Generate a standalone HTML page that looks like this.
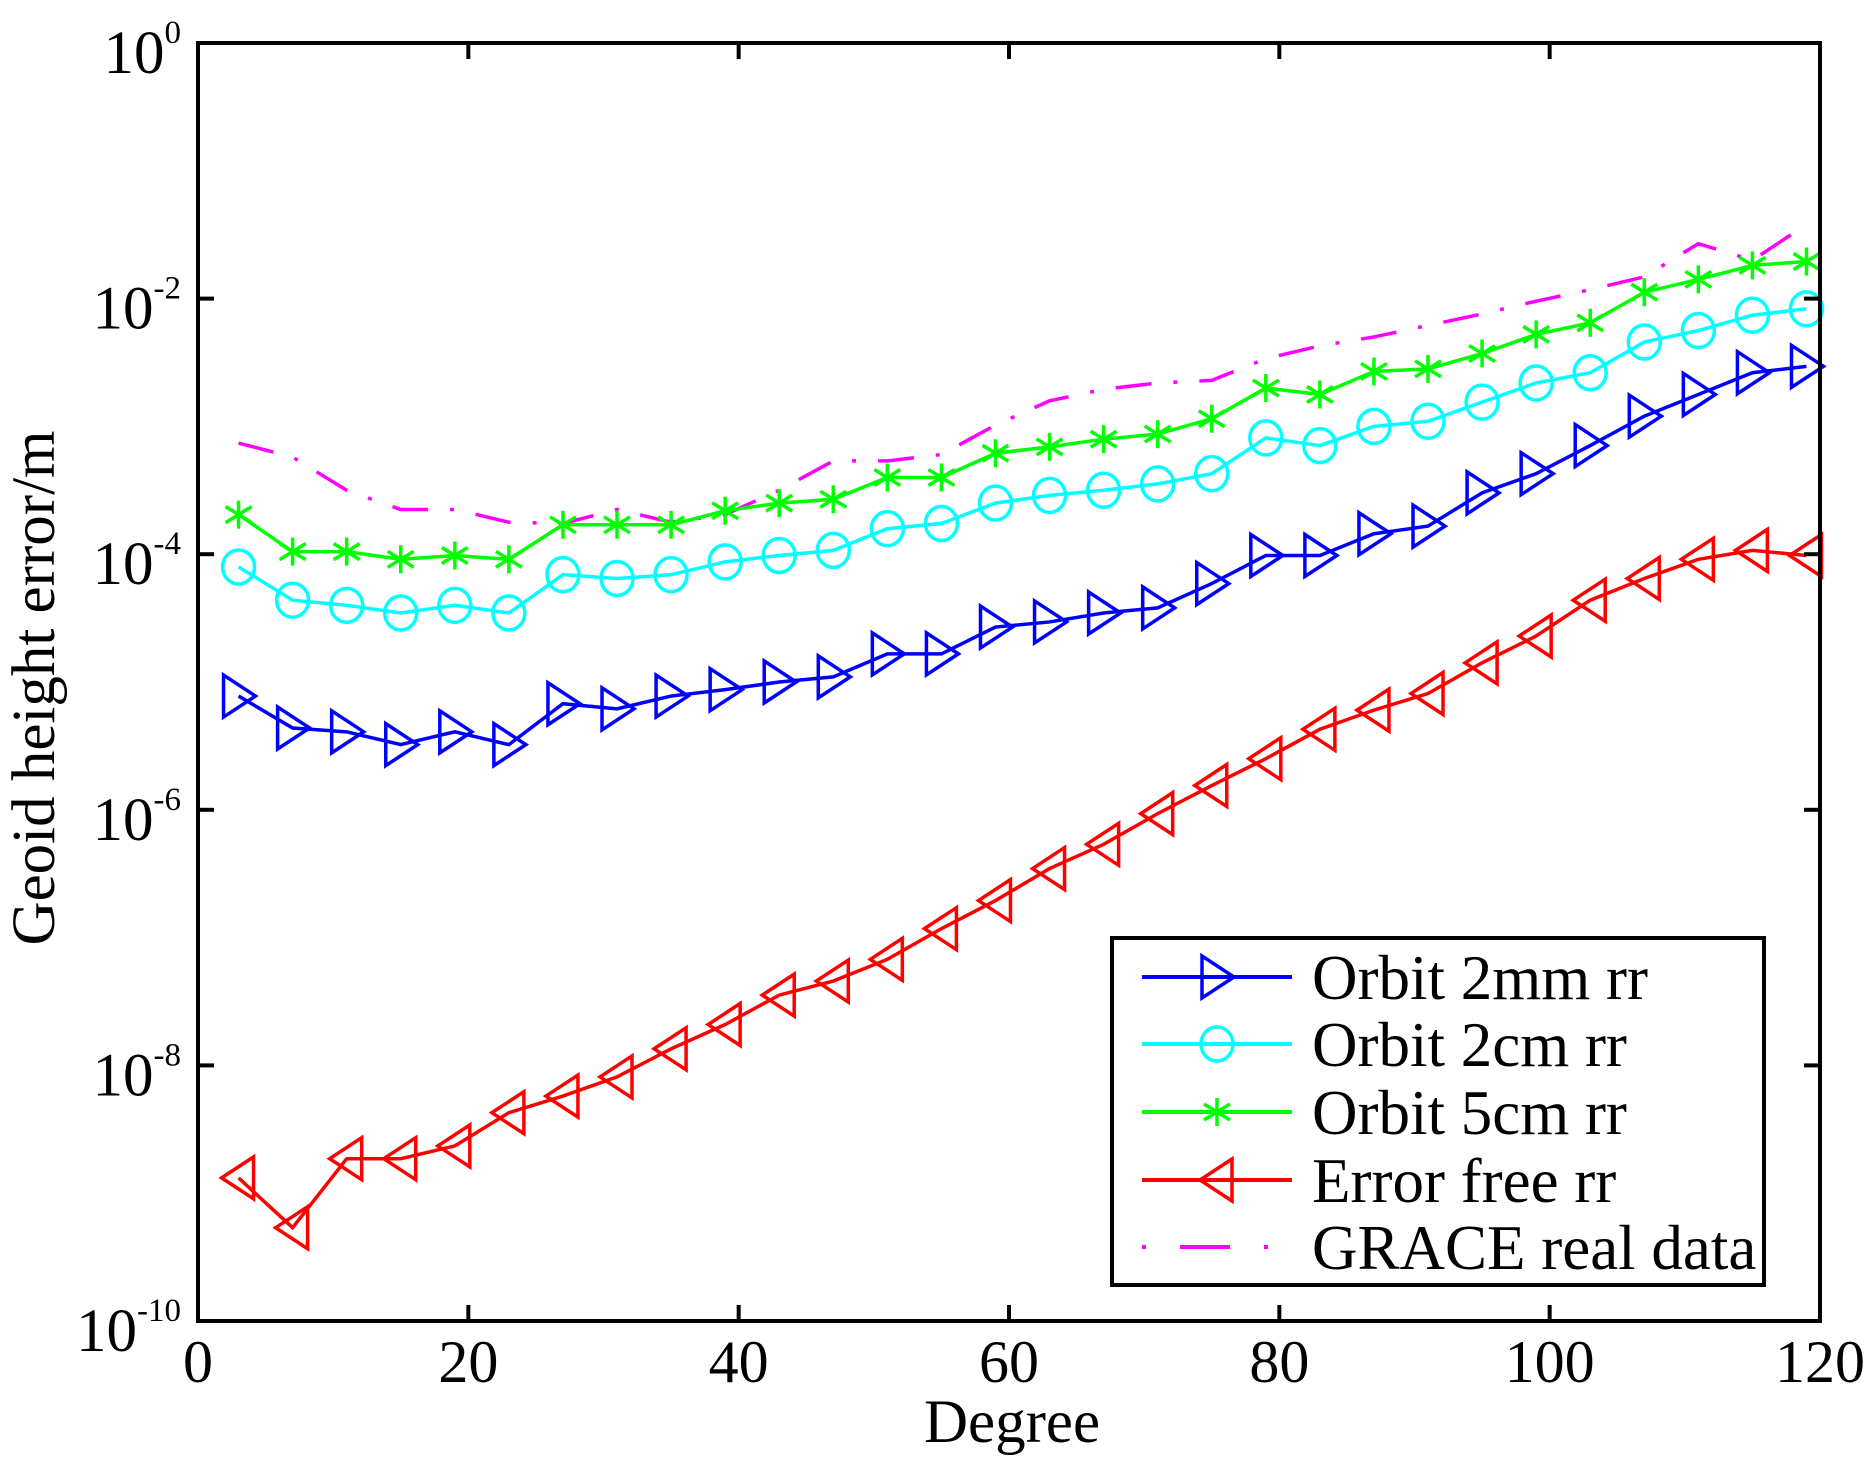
<!DOCTYPE html>
<html><head><meta charset="utf-8"><style>
html,body{margin:0;padding:0;background:#fff;}
svg{display:block;font-family:"Liberation Serif",serif;}
</style></head><body>
<svg id="chart" width="1875" height="1467" viewBox="0 0 1875 1467" xmlns="http://www.w3.org/2000/svg">
<rect x="0" y="0" width="1875" height="1467" fill="#fff"/>
<g id="marks"></g>
<g id="axes"></g>
</svg>
<script>
const degrees = [3,7,11,15,19,23,27,31,35,39,43,47,51,55,59,63,67,71,75,79,83,87,91,95,99,103,107,111,115,119];
const orbit2mm = [-5.11,-5.36,-5.39,-5.49,-5.39,-5.49,-5.17,-5.21,-5.11,-5.06,-5.00,-4.96,-4.78,-4.78,-4.57,-4.53,-4.46,-4.42,-4.23,-4.01,-4.01,-3.84,-3.78,-3.52,-3.37,-3.15,-2.92,-2.75,-2.58,-2.53];
const orbit2cm = [-4.10,-4.36,-4.40,-4.46,-4.40,-4.46,-4.16,-4.19,-4.16,-4.06,-4.01,-3.97,-3.80,-3.76,-3.60,-3.54,-3.50,-3.45,-3.37,-3.09,-3.15,-3.00,-2.96,-2.81,-2.66,-2.58,-2.34,-2.25,-2.13,-2.08];
const orbit5cm = [-3.69,-3.98,-3.98,-4.04,-4.01,-4.04,-3.77,-3.77,-3.77,-3.66,-3.60,-3.57,-3.40,-3.40,-3.21,-3.16,-3.10,-3.06,-2.94,-2.70,-2.75,-2.57,-2.55,-2.43,-2.28,-2.19,-1.95,-1.85,-1.74,-1.71];
const errorFree = [-8.88,-9.27,-8.73,-8.73,-8.63,-8.37,-8.24,-8.09,-7.87,-7.68,-7.45,-7.34,-7.17,-6.93,-6.71,-6.46,-6.27,-6.03,-5.81,-5.60,-5.37,-5.22,-5.09,-4.85,-4.64,-4.36,-4.19,-4.04,-3.97,-4.01];
const grace = [-3.13,-3.24,-3.50,-3.65,-3.65,-3.75,-3.76,-3.65,-3.75,-3.69,-3.50,-3.27,-3.27,-3.22,-2.99,-2.80,-2.71,-2.66,-2.64,-2.47,-2.37,-2.30,-2.21,-2.12,-2.02,-1.93,-1.83,-1.57,-1.70,-1.42];
const xTicks = [0,20,40,60,80,100,120];
const yTickExps = [0,-2,-4,-6,-8,-10];

const NS = "http://www.w3.org/2000/svg";
const X0=198, X1=1820, Y0=43, Y1=1321;
function sx(d){ return X0 + (d-0)/(120-0)*(X1-X0); }
function sy(lg){ return Y0 + (0-lg)/10*(Y1-Y0); }
function mk(tag, attrs, parent){
  const e=document.createElementNS(NS,tag);
  for(const k in attrs) e.setAttribute(k,attrs[k]);
  parent.appendChild(e); return e;
}
const marks=document.getElementById('marks');
const axes=document.getElementById('axes');

function marker(type,x,y,color,g){
  let e;
  if(type==='tri-right'){
    e=mk('polygon',{points:`${x-15},${y-21} ${x+17},${y} ${x-15},${y+21}`,fill:'none',stroke:color,'stroke-width':3.5},g);
  } else if(type==='tri-left'){
    e=mk('polygon',{points:`${x+15},${y-21} ${x-17},${y} ${x+15},${y+21}`,fill:'none',stroke:color,'stroke-width':3.5},g);
  } else if(type==='circle'){
    e=mk('ellipse',{cx:x,cy:y,rx:16,ry:17,fill:'none',stroke:color,'stroke-width':3.5},g);
  } else if(type==='star'){
    e=mk('path',{d:`M${x} ${y-14}V${y+14}M${x-13} ${y-8}L${x+13} ${y+8}M${x-13} ${y+8}L${x+13} ${y-8}`,fill:'none',stroke:color,'stroke-width':3.5},g);
  }
  return e;
}

const series=[
  {name:'orbit-2mm',vals:orbit2mm,color:'#0000ff',m:'tri-right'},
  {name:'orbit-2cm',vals:orbit2cm,color:'#00ffff',m:'circle'},
  {name:'orbit-5cm',vals:orbit5cm,color:'#00ff00',m:'star'},
  {name:'error-free',vals:errorFree,color:'#ff0000',m:'tri-left'}
];

{
  const pts=degrees.map((d,i)=>sx(d)+','+sy(grace[i])).join(' ');
  const p=mk('polyline',{points:pts,fill:'none',stroke:'#ff00ff','stroke-width':3.5,'stroke-dasharray':'36,22,4,22'},marks);
  
  
}
series.forEach(s=>{
  const g=mk('g',{},marks);
  
  
  const pts=degrees.map((d,i)=>sx(d)+','+sy(s.vals[i])).join(' ');
  const l=mk('polyline',{points:pts,fill:'none',stroke:s.color,'stroke-width':3.5},g);
  
  
  degrees.forEach((d,i)=>{
    const m=marker(s.m,sx(d),sy(s.vals[i]),s.color,g);
    
    
  });
});

{
  const r=mk('rect',{x:X0,y:Y0,width:X1-X0,height:Y1-Y0,fill:'none',stroke:'#000','stroke-width':4},axes);
  
  
}
xTicks.forEach(t=>{
  const x=sx(t);
  mk('line',{x1:x,y1:Y1,x2:x,y2:Y1-16,stroke:'#000','stroke-width':4},axes);
  mk('line',{x1:x,y1:Y0,x2:x,y2:Y0+16,stroke:'#000','stroke-width':4},axes);
  const tx=mk('text',{x:x,y:1382,'font-size':60,'text-anchor':'middle',fill:'#000'},axes);
  tx.textContent=String(t);
  
  
});
yTickExps.forEach(e=>{
  const y=sy(e);
  mk('line',{x1:X0,y1:y,x2:X0+16,y2:y,stroke:'#000','stroke-width':4},axes);
  mk('line',{x1:X1,y1:y,x2:X1-16,y2:y,stroke:'#000','stroke-width':4},axes);
  const tx=mk('text',{x:181,y:y+30,'font-size':61,'text-anchor':'end',fill:'#000'},axes);
  const a=document.createElementNS(NS,'tspan'); a.textContent='10'; tx.appendChild(a);
  const b=document.createElementNS(NS,'tspan'); b.setAttribute('font-size','33'); b.setAttribute('dy','-30'); b.textContent=String(e); tx.appendChild(b);
  
  
});
{
  const t=mk('text',{x:1012,y:1442,'font-size':61,'text-anchor':'middle',fill:'#000'},axes);
  t.textContent='Degree';
  
  
  const t2=mk('text',{x:0,y:0,'font-size':61,'text-anchor':'middle',fill:'#000',transform:'translate(54,688) rotate(-90)'},axes);
  t2.textContent='Geoid height error/m';
  
  
}
{
  const lg=mk('g',{},axes);
  
  
  mk('rect',{x:1112,y:938,width:652,height:347,fill:'#fff',stroke:'#000','stroke-width':4},lg);
  const labels=['Orbit 2mm rr','Orbit 2cm rr','Orbit 5cm rr','Error free rr','GRACE real data'];
  const rows=[977,1044,1112,1180,1247];
  const allS=series.concat([{name:'grace',color:'#ff00ff'}]);
  labels.forEach((lab,i)=>{
    const y=rows[i];
    const s=allS[i];
    if(i<4){
      mk('line',{x1:1142,y1:y,x2:1292,y2:y,stroke:s.color,'stroke-width':4},lg);
      marker(s.m,1217,y,s.color,lg);
    } else {
      mk('line',{x1:1142,y1:y,x2:1292,y2:y,stroke:'#ff00ff','stroke-width':4,'stroke-dasharray':'4,34,50,34,4,100'},lg);
    }
    const t=mk('text',{x:1312,y:y+22,'font-size':63,fill:'#000'},lg);
    t.textContent=lab;
    
    
  });
}
</script>
</body></html>
